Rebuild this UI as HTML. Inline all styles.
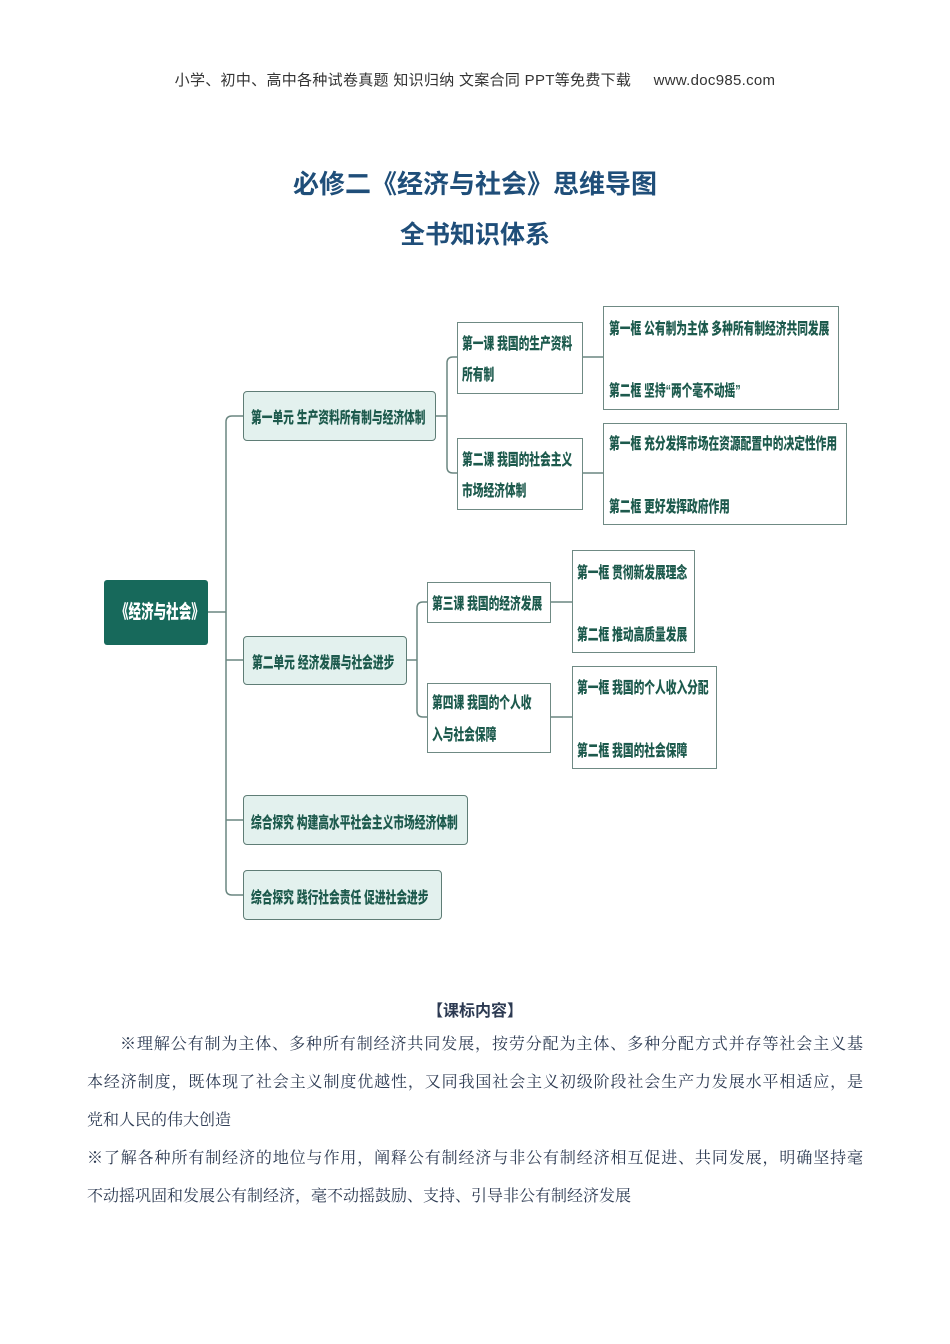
<!DOCTYPE html>
<html><head><meta charset="utf-8"><style>
body{margin:0;width:950px;height:1344px;background:#fff;position:relative;overflow:hidden}
.a{position:absolute;white-space:nowrap}
.hd{font-family:"Liberation Sans","Noto Sans CJK SC",sans-serif;font-size:15px;color:#333;left:0;width:950px;text-align:center;top:69px;letter-spacing:0.3px}
.t{font-family:"Liberation Sans","Noto Sans CJK SC",sans-serif;font-weight:700;color:#1f4e79;left:0;width:950px;text-align:center}
.box{position:absolute;box-sizing:border-box;border:1px solid #6f8a84;background:#fff}
.u{background:#e3f1ee;border-radius:4px;border-color:#5f7d76}
.n{position:absolute;font-family:"Liberation Sans","Noto Sans CJK SC",sans-serif;font-weight:900;font-size:16px;color:#1d5a4d;transform:scaleX(.67);transform-origin:0 50%;white-space:nowrap;line-height:20px}
.p{position:absolute;left:87px;width:776px;font-family:"Liberation Serif","Noto Serif CJK SC",serif;font-size:16px;color:#2c3a52;text-align:justify;text-align-last:justify;white-space:nowrap;line-height:20px}
</style></head><body>
<div class="a hd">小学、初中、高中各种试卷真题 知识归纳 文案合同 PPT等免费下载 &nbsp;&nbsp;&nbsp;&nbsp;www.doc985.com</div>
<div class="a t" style="top:164px;font-size:26px">必修二《经济与社会》思维导图</div>
<div class="a t" style="top:215px;font-size:25px">全书知识体系</div>

<svg class="a" style="left:0;top:0" width="950" height="1000" fill="none" stroke="#6a8680" stroke-width="1.5">
<path d="M207 612H226"/>
<path d="M243 416H232Q226 416 226 422V889Q226 895 232 895H243"/>
<path d="M226 660H243M226 820H243"/>
<path d="M435 416H447M457 357H453Q447 357 447 363V467Q447 473 453 473H457"/>
<path d="M582 357H603M582 473H603"/>
<path d="M406 660H417M427 602H423Q417 602 417 608V711Q417 717 423 717H427"/>
<path d="M550 602H572M550 717H572"/>
</svg>

<div class="box" style="left:104px;top:580px;width:104px;height:65px;background:#17695b;border:none;border-radius:3px"></div>
<div class="n" style="left:116px;top:603px;color:#fff;font-size:19px;transform:scaleX(.66)">《经济与社会》</div>

<div class="box u" style="left:243px;top:391px;width:193px;height:50px"></div>
<div class="n" style="left:251px;top:409px">第一单元 生产资料所有制与经济体制</div>
<div class="box" style="left:457px;top:322px;width:126px;height:72px"></div>
<div class="n" style="left:462px;top:335px">第一课 我国的生产资料</div>
<div class="n" style="left:462px;top:366px">所有制</div>
<div class="box" style="left:457px;top:438px;width:126px;height:72px"></div>
<div class="n" style="left:462px;top:451px">第二课 我国的社会主义</div>
<div class="n" style="left:462px;top:482px">市场经济体制</div>
<div class="box" style="left:603px;top:306px;width:236px;height:104px"></div>
<div class="n" style="left:609px;top:320px">第一框 公有制为主体 多种所有制经济共同发展</div>
<div class="n" style="left:609px;top:382px">第二框 坚持“两个毫不动摇”</div>
<div class="box" style="left:603px;top:423px;width:244px;height:102px"></div>
<div class="n" style="left:609px;top:435px">第一框 充分发挥市场在资源配置中的决定性作用</div>
<div class="n" style="left:609px;top:498px">第二框 更好发挥政府作用</div>

<div class="box u" style="left:243px;top:636px;width:164px;height:49px"></div>
<div class="n" style="left:252px;top:654px">第二单元 经济发展与社会进步</div>
<div class="box" style="left:427px;top:582px;width:124px;height:41px"></div>
<div class="n" style="left:432px;top:595px">第三课 我国的经济发展</div>
<div class="box" style="left:427px;top:683px;width:124px;height:70px"></div>
<div class="n" style="left:432px;top:694px">第四课 我国的个人收</div>
<div class="n" style="left:432px;top:726px">入与社会保障</div>
<div class="box" style="left:572px;top:550px;width:123px;height:103px"></div>
<div class="n" style="left:577px;top:564px">第一框 贯彻新发展理念</div>
<div class="n" style="left:577px;top:626px">第二框 推动高质量发展</div>
<div class="box" style="left:572px;top:666px;width:145px;height:103px"></div>
<div class="n" style="left:577px;top:679px">第一框 我国的个人收入分配</div>
<div class="n" style="left:577px;top:742px">第二框 我国的社会保障</div>

<div class="box u" style="left:243px;top:795px;width:225px;height:50px"></div>
<div class="n" style="left:251px;top:814px">综合探究 构建高水平社会主义市场经济体制</div>
<div class="box u" style="left:243px;top:870px;width:199px;height:50px"></div>
<div class="n" style="left:251px;top:889px">综合探究 践行社会责任 促进社会进步</div>

<div class="a t" style="top:997px;font-size:16px;color:#2c3a52">【课标内容】</div>
<div class="p" style="top:1035px;left:120px;width:743px">※理解公有制为主体、多种所有制经济共同发展，按劳分配为主体、多种分配方式并存等社会主义基</div>
<div class="p" style="top:1073px">本经济制度，既体现了社会主义制度优越性，又同我国社会主义初级阶段社会生产力发展水平相适应，是</div>
<div class="p" style="top:1111px;text-align-last:left">党和人民的伟大创造</div>
<div class="p" style="top:1149px">※了解各种所有制经济的地位与作用，阐释公有制经济与非公有制经济相互促进、共同发展，明确坚持毫</div>
<div class="p" style="top:1187px;text-align-last:left">不动摇巩固和发展公有制经济，毫不动摇鼓励、支持、引导非公有制经济发展</div>
</body></html>
